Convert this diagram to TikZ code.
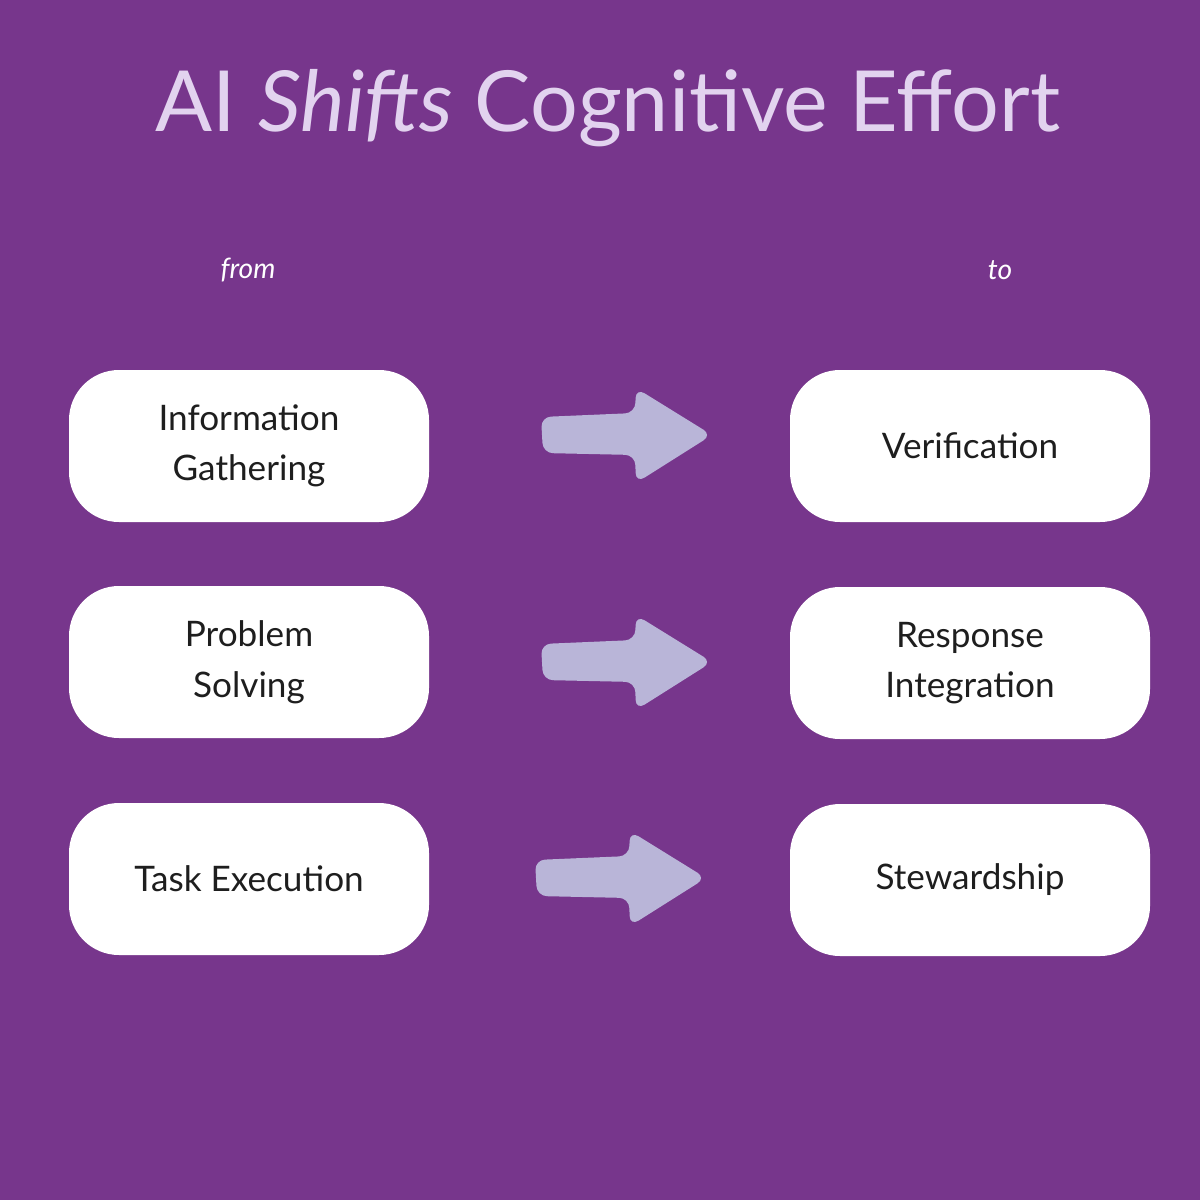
\documentclass[tikz,border=0pt]{standalone}
\usepackage{fontspec}
\setmainfont{Lato}
\definecolor{bg}{HTML}{77368C}
\definecolor{ttl}{HTML}{E2D3EF}
\definecolor{arr}{HTML}{B9B5D8}
\definecolor{txt}{HTML}{1E1E1E}
\begin{document}
\begin{tikzpicture}[x=0.05cm,y=-0.05cm,
  box/.style={fill=white,rounded corners=50*0.05cm,minimum width=360*0.05cm,minimum height=152*0.05cm,align=center,font=\fontsize{50}{72}\selectfont,text=txt,inner sep=0pt},
  lab/.style={text=white,font=\fontsize{40}{48}\selectfont\itshape}]
\fill[bg] (0,0) rectangle (1200,1200);
\node[text=ttl,font=\fontsize{120}{140}\selectfont] (title) at (608,108) {AI \textit{Shifts} Cognitive Effort};
\node[lab] (from) at (248,270) {from};
\node[lab] (to) at (1000,270) {to};
\node[box] (a1) at (249,446) {Information\\Gathering};
\node[box] (a2) at (249,662) {Problem\\Solving};
\node[box] (a3) at (249,879) {Task Execution};
\node[box] (b1) at (970,446) {Verification};
\node[box] (b2) at (970,663) {Response\\Integration};
\node[box] (b3) at (970,880) {Stewardship};
\foreach \dx/\cy in {0/435,0/662,-6/878}{
\fill[arr,rounded corners=10*0.05cm,shift={(\dx,\cy)}]
 (541,-18) -- (635,-22) -- (636,-47) -- (712,0) -- (636,48) -- (635,20) -- (543,18) -- cycle;
}
\end{tikzpicture}
\end{document}
